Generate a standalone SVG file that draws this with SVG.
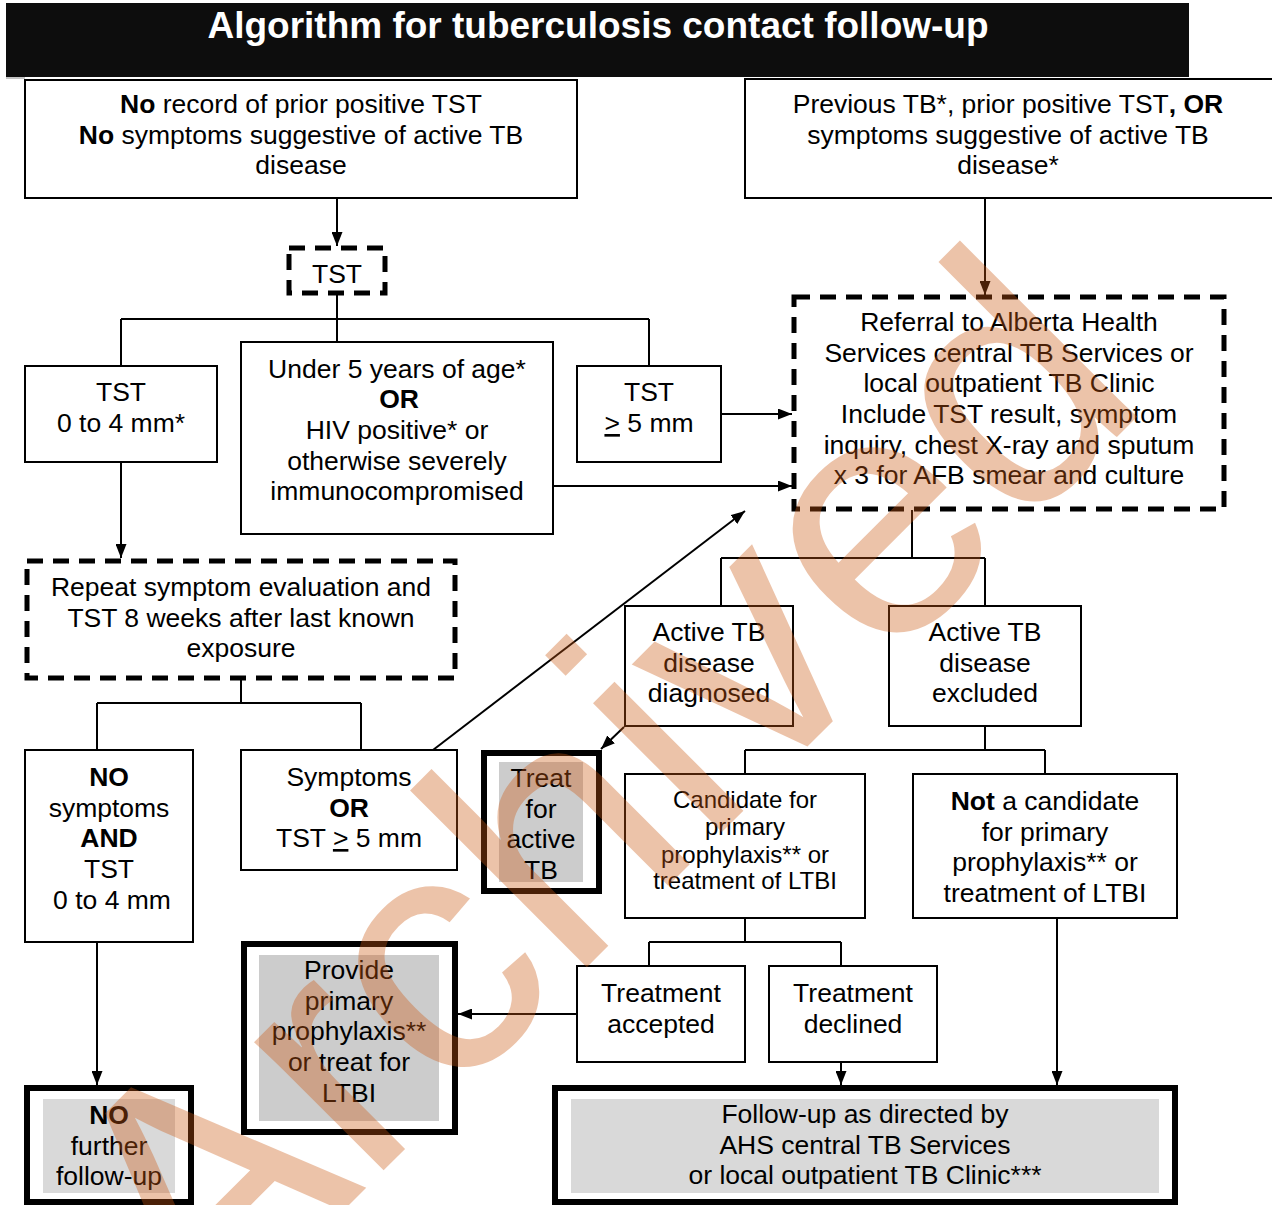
<svg xmlns="http://www.w3.org/2000/svg" width="1272" height="1205" viewBox="0 0 1272 1205">
<style>
text{font-family:"Liberation Sans",Arial,sans-serif;font-size:26.5px;fill:#000;text-anchor:middle}
.sm{font-size:24px}
.b{font-weight:bold}
.title{font-size:37px;font-weight:bold;fill:#fff}
.box{fill:#fff;stroke:#000;stroke-width:2}
.dash{fill:#fff;stroke:#000;stroke-width:5;stroke-dasharray:16 10}
.thick{fill:#fff;stroke:#000;stroke-width:6}
.g1{fill:#cccccc}
.g2{fill:#d9d9d9}
.c{fill:none;stroke:#000;stroke-width:2}
.wm{font-size:345px;fill:#cc5a14;opacity:0.36;text-anchor:start}
</style>
<defs>
<marker id="ah" viewBox="0 0 14 11" refX="14" refY="5.5" markerWidth="14" markerHeight="11" orient="auto" markerUnits="userSpaceOnUse"><path d="M0,0 L14,5.5 L0,11 z" fill="#000"/></marker>
</defs>
<rect width="1272" height="1205" fill="#fff"/>
<g id="title">
<rect x="6" y="3" width="1183" height="74" fill="#0d0d0d"/>
<line x1="6" y1="78" x2="25" y2="78" stroke="#888" stroke-width="1"/>
<text class="title" x="598" y="38">Algorithm for tuberculosis contact follow-up</text>
</g>
<g id="connectors" class="c">
<path d="M337,198 V246" marker-end="url(#ah)"/>
<path d="M337,294 V319 M121,319 H649 M121,319 V366 M337,319 V342 M649,319 V366"/>
<path d="M721,414 H792" marker-end="url(#ah)"/>
<path d="M553,486 H792" marker-end="url(#ah)"/>
<path d="M985,198 V295" marker-end="url(#ah)"/>
<path d="M912,510 V558 M721,558 H985 M721,558 V606 M985,558 V606"/>
<path d="M624,727 L601,749" marker-end="url(#ah)"/>
<path d="M985,726 V750 M745,750 H1045 M745,750 V774 M1045,750 V774"/>
<path d="M745,918 V942 M649,942 H841 M649,942 V966 M841,942 V966"/>
<path d="M577,1014 H458" marker-end="url(#ah)"/>
<path d="M841,1062 V1085" marker-end="url(#ah)"/>
<path d="M1057,918 V1085" marker-end="url(#ah)"/>
<path d="M121,462 V558" marker-end="url(#ah)"/>
<path d="M241,679 V703 M97,703 H361 M97,703 V750 M361,703 V750"/>
<path d="M433,750 L745,511" marker-end="url(#ah)"/>
<path d="M97,942 V1085" marker-end="url(#ah)"/>
</g>
<g id="n-no-record">
<rect class="box" x="25" y="80" width="552" height="118"/>
<text x="301" y="113"><tspan class="b">No</tspan> record of prior positive TST</text>
<text x="301" y="144"><tspan class="b">No</tspan> symptoms suggestive of active TB</text>
<text x="301" y="174">disease</text>
</g>
<g id="n-previous">
<rect class="box" x="745" y="79" width="540" height="119"/>
<text x="1008" y="113">Previous TB*, prior positive TST<tspan class="b">, OR</tspan></text>
<text x="1008" y="144">symptoms suggestive of active TB</text>
<text x="1008" y="174">disease*</text>
</g>
<g id="n-tst">
<rect class="dash" x="289" y="248" width="96" height="45"/>
<text x="337" y="283">TST</text>
</g>
<g id="n-tst-0-4">
<rect class="box" x="25" y="366" width="192" height="96"/>
<text x="121" y="401">TST</text>
<text x="121" y="432">0 to 4 mm*</text>
</g>
<g id="n-under5">
<rect class="box" x="241" y="342" width="312" height="192"/>
<text x="397" y="378">Under 5 years of age*</text>
<text x="399" y="408" class="b">OR</text>
<text x="397" y="439">HIV positive* or</text>
<text x="397" y="470">otherwise severely</text>
<text x="397" y="500">immunocompromised</text>
</g>
<g id="n-tst-5">
<rect class="box" x="577" y="366" width="144" height="96"/>
<text x="649" y="401">TST</text>
<text x="649" y="432"><tspan text-decoration="underline">&gt;</tspan> 5 mm</text>
</g>
<g id="n-referral">
<rect class="dash" x="794" y="297" width="430" height="212"/>
<text x="1009" y="331">Referral to Alberta Health</text>
<text x="1009" y="362">Services central TB Services or</text>
<text x="1009" y="392">local outpatient TB Clinic</text>
<text x="1009" y="423">Include TST result, symptom</text>
<text x="1009" y="454">inquiry, chest X-ray and sputum</text>
<text x="1009" y="484">x 3 for AFB smear and culture</text>
</g>
<g id="n-repeat">
<rect class="dash" x="27" y="561" width="428" height="117"/>
<text x="241" y="596">Repeat symptom evaluation and</text>
<text x="241" y="627">TST 8 weeks after last known</text>
<text x="241" y="657">exposure</text>
</g>
<g id="n-diagnosed">
<rect class="box" x="625" y="606" width="168" height="120"/>
<text x="709" y="641">Active TB</text>
<text x="709" y="672">disease</text>
<text x="709" y="702">diagnosed</text>
</g>
<g id="n-excluded">
<rect class="box" x="889" y="606" width="192" height="120"/>
<text x="985" y="641">Active TB</text>
<text x="985" y="672">disease</text>
<text x="985" y="702">excluded</text>
</g>
<g id="n-no-symptoms">
<rect class="box" x="25" y="750" width="168" height="192"/>
<text x="109" y="786" class="b">NO</text>
<text x="109" y="817">symptoms</text>
<text x="109" y="847" class="b">AND</text>
<text x="109" y="878">TST</text>
<text x="112" y="909">0 to 4 mm</text>
</g>
<g id="n-symptoms">
<rect class="box" x="241" y="750" width="216" height="120"/>
<text x="349" y="786">Symptoms</text>
<text x="349" y="817" class="b">OR</text>
<text x="349" y="847">TST <tspan text-decoration="underline">&gt;</tspan> 5 mm</text>
</g>
<g id="n-treat-active">
<rect class="thick" x="484" y="753" width="115" height="138"/>
<rect class="g1" x="499" y="762" width="84" height="120"/>
<text x="541" y="787">Treat</text>
<text x="541" y="818">for</text>
<text x="541" y="848">active</text>
<text x="541" y="879">TB</text>
</g>
<g id="n-candidate">
<rect class="box" x="625" y="774" width="240" height="144"/>
<text class="sm" x="745" y="808">Candidate for</text>
<text class="sm" x="745" y="835">primary</text>
<text class="sm" x="745" y="863">prophylaxis** or</text>
<text class="sm" x="745" y="889">treatment of LTBI</text>
</g>
<g id="n-not-candidate">
<rect class="box" x="913" y="774" width="264" height="144"/>
<text x="1045" y="810"><tspan class="b">Not</tspan> a candidate</text>
<text x="1045" y="841">for primary</text>
<text x="1045" y="871">prophylaxis** or</text>
<text x="1045" y="902">treatment of LTBI</text>
</g>
<g id="n-provide">
<rect class="thick" x="244" y="944" width="211" height="188"/>
<rect class="g1" x="259" y="955" width="180" height="166"/>
<text x="349" y="979">Provide</text>
<text x="349" y="1010">primary</text>
<text x="349" y="1040">prophylaxis**</text>
<text x="349" y="1071">or treat for</text>
<text x="349" y="1102">LTBI</text>
</g>
<g id="n-accepted">
<rect class="box" x="577" y="966" width="168" height="96"/>
<text x="661" y="1002">Treatment</text>
<text x="661" y="1033">accepted</text>
</g>
<g id="n-declined">
<rect class="box" x="769" y="966" width="168" height="96"/>
<text x="853" y="1002">Treatment</text>
<text x="853" y="1033">declined</text>
</g>
<g id="n-no-further">
<rect class="thick" x="27" y="1088" width="164" height="114"/>
<rect class="g2" x="43" y="1099" width="132" height="94"/>
<text x="109" y="1124" class="b">NO</text>
<text x="109" y="1155">further</text>
<text x="109" y="1185">follow-up</text>
</g>
<g id="n-follow-up">
<rect class="thick" x="555" y="1088" width="620" height="114"/>
<rect class="g2" x="571" y="1099" width="588" height="94"/>
<text x="865" y="1123">Follow-up as directed by</text>
<text x="865" y="1154">AHS central TB Services</text>
<text x="865" y="1184">or local outpatient TB Clinic***</text>
</g>
<g id="watermark">
<text class="wm" transform="translate(204,1350) rotate(-45)">Archived</text>
</g>
</svg>
